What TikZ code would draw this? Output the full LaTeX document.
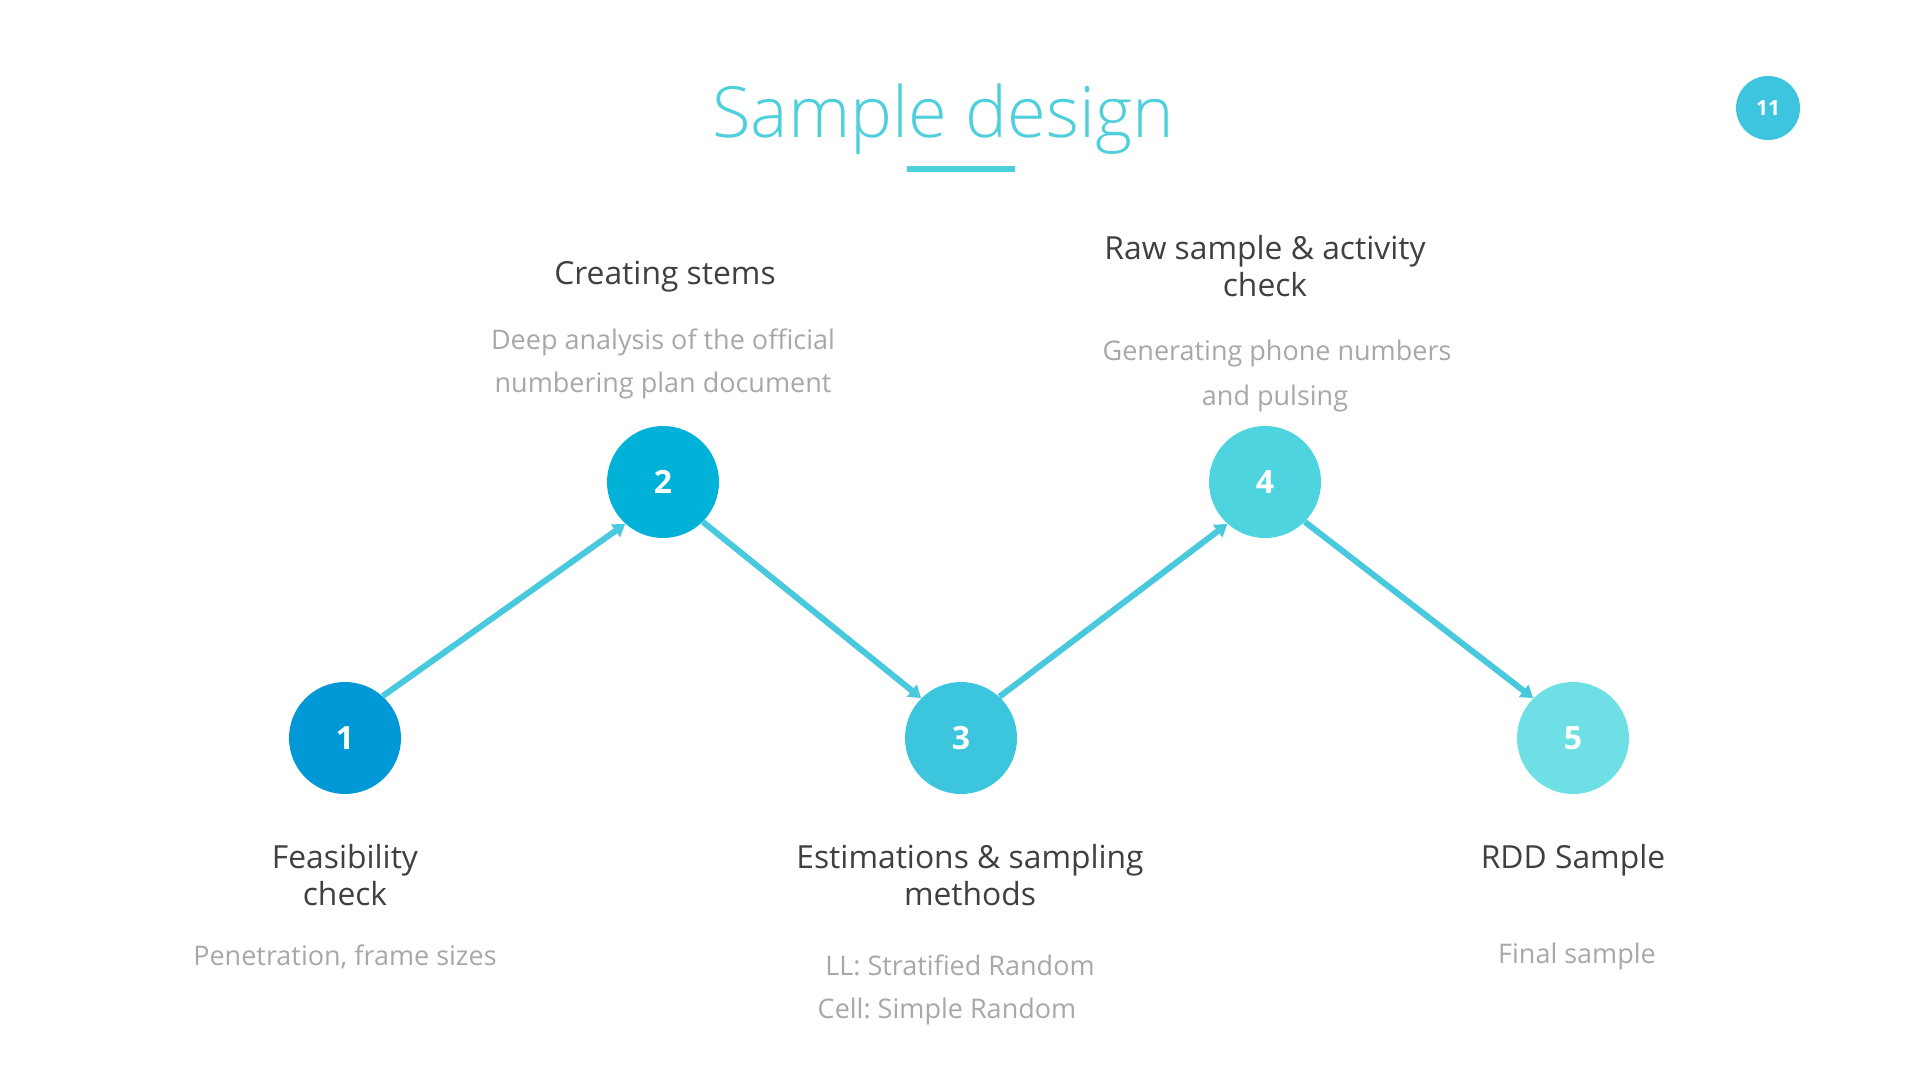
\documentclass[tikz,border=0pt]{standalone}
\usepackage{fontspec}
\setmainfont{Open Sans}
\newfontfamily\titlefont{Open Sans Light}
\usetikzlibrary{arrows.meta}
\frenchspacing
\definecolor{cone}{HTML}{0098D6}
\definecolor{ctwo}{HTML}{00B2D8}
\definecolor{cthree}{HTML}{3CC6DD}
\definecolor{cfour}{HTML}{4DD4DF}
\definecolor{cfive}{HTML}{6EE0E5}
\definecolor{arrcol}{HTML}{48C9DD}
\definecolor{titlecol}{HTML}{4ECFDC}
\definecolor{pagecol}{HTML}{3DC4DE}
\definecolor{headgray}{HTML}{404040}
\definecolor{subgray}{HTML}{A8A8A8}
\begin{document}
\begin{tikzpicture}[x=0.5pt,y=-0.5pt,
  stepcirc/.style={circle, minimum size=56pt, inner sep=0pt, text=white,
    font=\bfseries\fontsize{16}{16}\selectfont},
  head/.style={anchor=base, inner sep=0pt, text=headgray,
    font=\fontsize{15.9}{18}\selectfont},
  sub/.style={anchor=base, inner sep=0pt, text=subgray,
    font=\fontsize{13.5}{15}\selectfont},
  arr/.style={arrcol, line width=3pt, -{Triangle[length=6pt,width=7.5pt]}}]
\useasboundingbox (0,0) rectangle (1920,1080);
\fill[white] (0,0) rectangle (1920,1080);
% title
\node[anchor=base, inner sep=0pt, text=titlecol,
  font=\titlefont\fontsize{35.3}{40}\selectfont] (title) at (943,138) {Sample design};
\node[fill=titlecol, minimum width=54pt, minimum height=2.6pt, inner sep=0pt] (rule) at (961,169) {};
\node[circle, fill=pagecol, minimum size=32pt, inner sep=0pt, text=white,
  font=\bfseries\fontsize{10.5}{10.5}\selectfont] (page) at (1768,108) {11};
% circles
\node[stepcirc, fill=cone] (n1) at (345,738) {1};
\node[stepcirc, fill=ctwo] (n2) at (663,482) {2};
\node[stepcirc, fill=cthree] (n3) at (961,738) {3};
\node[stepcirc, fill=cfour] (n4) at (1265,482) {4};
\node[stepcirc, fill=cfive] (n5) at (1573,738) {5};
% arrows
\draw[arr] (n1.48) -- (n2.228);
\draw[arr] (n2.-45) -- (n3.135);
\draw[arr] (n3.47) -- (n4.228);
\draw[arr] (n4.-45) -- (n5.135);
% texts step 1
\node[head] (t1a) at (345,868) {Feasibility};
\node[head] (t1b) at (345,905) {check};
\node[sub] (s1a) at (345,965) {Penetration, frame sizes};
% step 2
\node[head] (t2a) at (665,285) {Creating stems};
\node[sub] (s2a) at (663,350) {Deep analysis of the official};
\node[sub] (s2b) at (663,393) {numbering plan document};
% step 3
\node[head] (t3a) at (970,868) {Estimations \& sampling};
\node[head] (t3b) at (970,905) {methods};
\node[sub] (s3a) at (960,975) {LL: Stratified Random};
\node[sub] (s3b) at (947,1018) {Cell: Simple Random};
% step 4
\node[head] (t4a) at (1265,260) {Raw sample \& activity};
\node[head] (t4b) at (1265,297) {check};
\node[sub] (s4a) at (1277,360) {Generating phone numbers};
\node[sub] (s4b) at (1275,405) {and pulsing};
% step 5
\node[head] (t5a) at (1573,868) {RDD Sample};
\node[sub] (s5a) at (1577,963) {Final sample};
\end{tikzpicture}
\end{document}
